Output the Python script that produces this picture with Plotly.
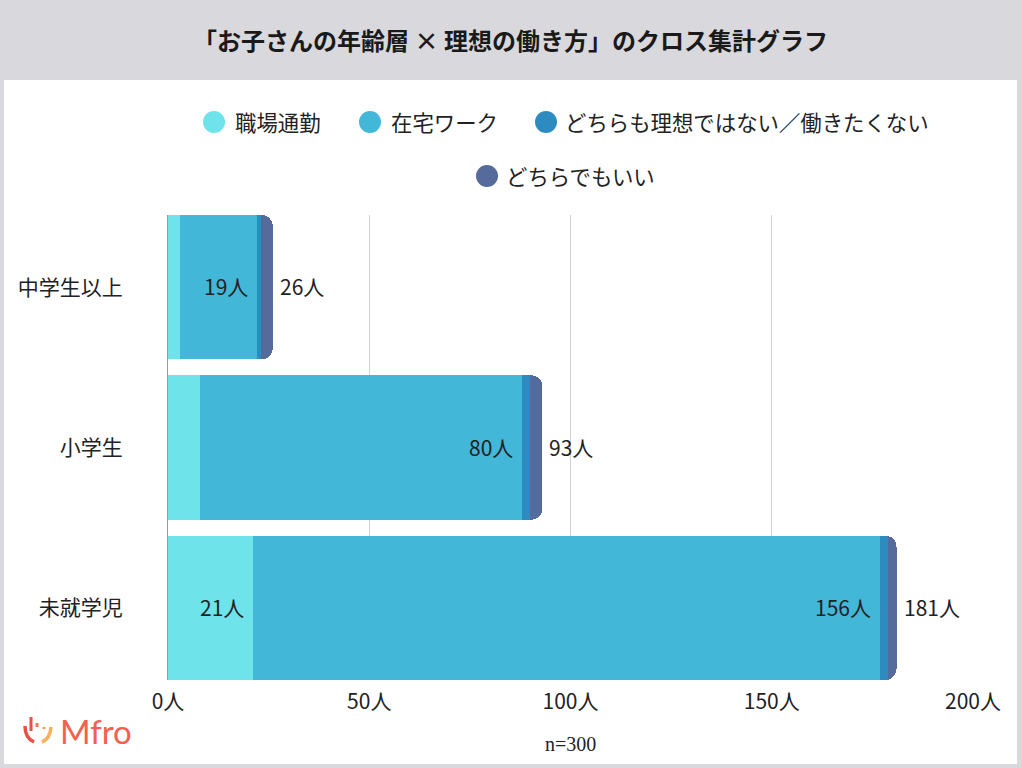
import plotly.graph_objects as go

FONT = 'Noto Sans CJK JP'
INK = '#222222'

ages = ['未就学児', '小学生', '中学生以上']
series_names = ['職場通勤', '在宅ワーク', 'どちらも理想ではない／働きたくない', 'どちらでもいい']
series_colors = ['#6fe3ea', '#43b7d8', '#2e8bbf', '#566b9c']
office = [21, 8, 3]
home = [156, 80, 19]
neither = [2, 2, 1]
either = [2, 3, 3]
totals = [181, 93, 26]
tick_values = [0, 50, 100, 150, 200]
tick_labels = ['0人', '50人', '100人', '150人', '200人']

# plot area in page pixels, everything decorative below is placed relative to it
W, H = 1022, 768
L, R, T, B = 168, 973, 215, 680


def px(x):
    return (x - L) / (R - L)


def py(y):
    return (B - y) / (B - T)


fig = go.Figure()
for name, values, color in zip(series_names, [office, home, neither, either], series_colors):
    fig.add_trace(go.Bar(y=ages, x=values, name=name, orientation='h',
                         marker=dict(color=color, line=dict(width=0)), showlegend=False))

annotations = []
# segment labels, right aligned inside the segment
for i, age in enumerate(ages):
    annotations.append(dict(x=home[i] + office[i], y=age, text=f'{home[i]}人', showarrow=False,
                            xanchor='right', xshift=-7, yshift=1, font=dict(size=21, color=INK, family=FONT)))
    annotations.append(dict(x=totals[i], y=age, text=f'{totals[i]}人', showarrow=False,
                            xanchor='left', xshift=5, yshift=1, font=dict(size=21, color=INK, family=FONT)))
annotations.append(dict(x=office[0], y=ages[0], text=f'{office[0]}人', showarrow=False,
                        xanchor='right', xshift=-7, yshift=1, font=dict(size=21, color=INK, family=FONT)))


def paper_text(x, y, text, size=21.4, color=INK, family=FONT, anchor='left', bold=False):
    if bold:
        text = f'<b>{text}</b>'
    annotations.append(dict(x=px(x), y=py(y), xref='paper', yref='paper', text=text, showarrow=False,
                            xanchor=anchor, yanchor='middle',
                            font=dict(size=size, color=color, family=family)))


paper_text(510, 39, '「お子さんの年齢層 × 理想の働き方」のクロス集計グラフ', size=24, color='#1a1a1a', anchor='center', bold=True)
paper_text(570, 744, 'n=300', size=20, family='Liberation Serif', anchor='center')
paper_text(58, 731, 'Mfro', size=33, color='#f2604e', family='Lato')

shapes = [
    dict(type='rect', xref='paper', yref='paper', x0=px(4), x1=px(1017), y0=py(764), y1=py(80),
         fillcolor='white', line_width=0, layer='below'),
]

# hand placed legend, two centred rows with large round keys
legend_items = [(214, 122, 233), (370, 122, 389), (546, 122, 563), (487, 176, 504)]
for (cx, cy, tx), name, color in zip(legend_items, series_names, series_colors):
    shapes.append(dict(type='circle', xref='paper', yref='paper', x0=px(cx - 11), x1=px(cx + 11),
                       y0=py(cy + 11), y1=py(cy - 11), fillcolor=color, line_width=0))
    paper_text(tx, cy - 1, name)

# logo mark
for x0, y0, x1, y1, x2, y2, color in [(25, 726, 25, 738, 34, 742, '#e8504a'), (42, 742, 50, 739, 51, 727, '#f6b25a')]:
    path = f'M {px(x0)} {py(y0)} Q {px(x1)} {py(y1)} {px(x2)} {py(y2)}'
    shapes.append(dict(type='path', xref='paper', yref='paper', path=path,
                       line=dict(color=color, width=3.5)))
for x, y0, y1, color in [(31, 717, 731, '#e8504a'), (37, 723, 727, '#ee7a50'), (44, 727, 729, '#f6a050')]:
    shapes.append(dict(type='line', xref='paper', yref='paper', x0=px(x), x1=px(x), y0=py(y0), y1=py(y1),
                       line=dict(color=color, width=3)))

fig.update_layout(
    width=W, height=H,
    barmode='stack', bargap=0.1, barcornerradius=11,
    paper_bgcolor='#d9d8dc', plot_bgcolor='white',
    margin=dict(l=L, r=W - R, t=T, b=H - B, pad=0),
    font=dict(family=FONT, size=21, color=INK),
    xaxis=dict(range=[0, 200], tickvals=tick_values, ticktext=tick_labels, showgrid=True, gridcolor='#cfd2d4',
               gridwidth=1, zeroline=False, ticks='outside', ticklen=3, tickcolor='rgba(0,0,0,0)',
               tickfont=dict(size=21, color=INK)),
    yaxis=dict(range=[-0.45, 2.45], showline=True, linecolor='#9a9a9a', linewidth=1, showgrid=False,
               ticks='outside', ticklen=40, tickcolor='rgba(0,0,0,0)', tickfont=dict(size=21, color=INK)),
    annotations=annotations,
    shapes=shapes,
)

fig.write_html("out.html", post_script="document.body.style.margin='0';", config={'displayModeBar': False})
